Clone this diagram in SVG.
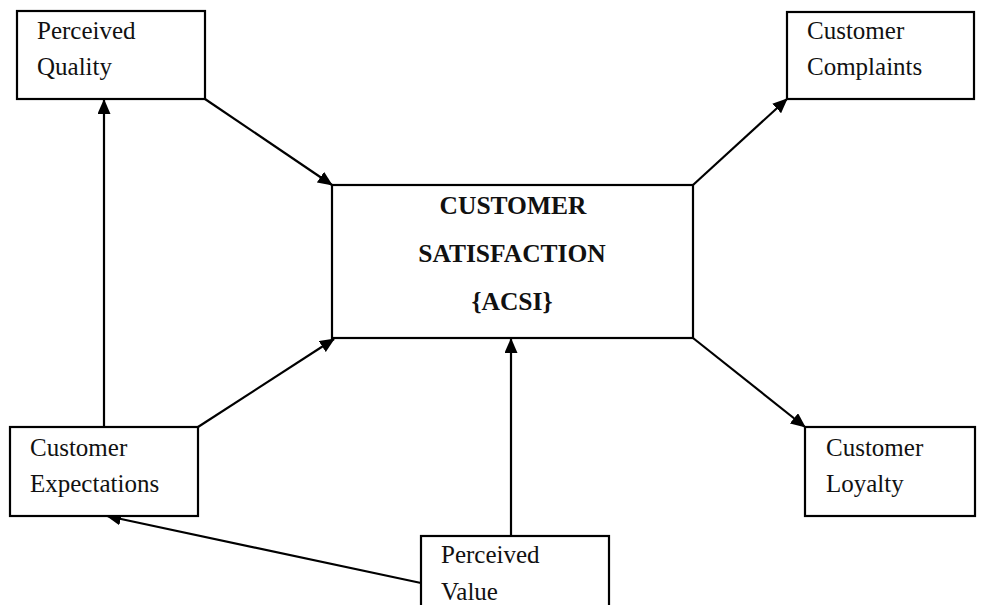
<svg xmlns="http://www.w3.org/2000/svg" width="986" height="605" viewBox="0 0 986 605">
<defs>
<marker id="ah" viewBox="0 0 15 13" refX="14" refY="6.5" markerWidth="15" markerHeight="13" markerUnits="userSpaceOnUse" orient="auto">
<path d="M0,0 L15,6.5 L0,13 Z" fill="#000"/>
</marker>
<style>
.box{fill:#fff;stroke:#000;stroke-width:2.2}
.t{font-family:"Liberation Serif","Times New Roman",serif;font-size:25px;fill:#111}
.b{font-family:"Liberation Serif","Times New Roman",serif;font-size:25.5px;font-weight:bold;fill:#111;text-anchor:middle}
.c{stroke:#000;stroke-width:2.2;fill:none;marker-end:url(#ah)}
</style>
</defs>
<rect width="986" height="605" fill="#fff"/>
<g id="connectors">
<line class="c" x1="205" y1="99" x2="332" y2="185"/>
<line class="c" x1="693" y1="185" x2="787" y2="99"/>
<line class="c" x1="693" y1="338" x2="805" y2="427"/>
<line class="c" x1="198" y1="427" x2="334" y2="339"/>
<line class="c" x1="104" y1="427" x2="104" y2="100"/>
<line class="c" x1="511" y1="536" x2="511" y2="339"/>
<line class="c" x1="421" y1="583" x2="107" y2="516"/>
</g>
<g id="perceived-quality">
<rect class="box" x="17" y="11" width="188" height="88"/>
<text class="t" x="37" y="39">Perceived</text>
<text class="t" x="37" y="75">Quality</text>
</g>
<g id="customer-complaints">
<rect class="box" x="787" y="12" width="187" height="87"/>
<text class="t" x="807" y="39">Customer</text>
<text class="t" x="807" y="75">Complaints</text>
</g>
<g id="customer-satisfaction">
<rect class="box" x="332" y="185" width="361" height="153"/>
<text class="b" x="513" y="214">CUSTOMER</text>
<text class="b" x="512" y="262">SATISFACTION</text>
<text class="b" x="512" y="310">{ACSI}</text>
</g>
<g id="customer-expectations">
<rect class="box" x="10" y="427" width="188" height="89"/>
<text class="t" x="30" y="456">Customer</text>
<text class="t" x="30" y="492">Expectations</text>
</g>
<g id="customer-loyalty">
<rect class="box" x="805" y="427" width="170" height="89"/>
<text class="t" x="826" y="456">Customer</text>
<text class="t" x="826" y="492">Loyalty</text>
</g>
<g id="perceived-value">
<rect class="box" x="421" y="536" width="188" height="80"/>
<text class="t" x="441" y="563">Perceived</text>
<text class="t" x="441" y="600">Value</text>
</g>
</svg>
